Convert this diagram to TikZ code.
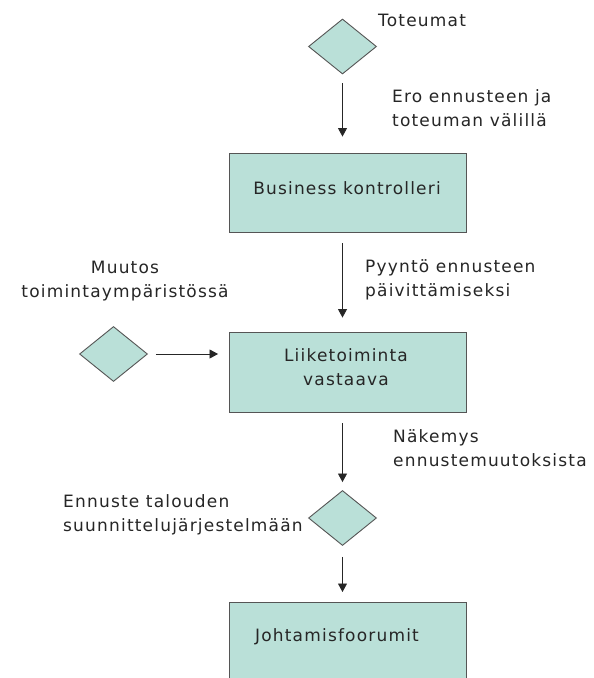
\documentclass[tikz,border=0pt]{standalone}
\usepackage{fontspec}
\setmainfont{DejaVu Sans}[LetterSpace=7]
\usetikzlibrary{shapes.geometric,arrows.meta}
\definecolor{boxfill}{RGB}{186,224,216}
\definecolor{boxline}{RGB}{85,85,85}
\begin{document}
\begin{tikzpicture}[x=1pt,y=-1pt,
  every node/.style={font=\fontsize{17}{24}\selectfont, text=black!85},
  stepbox/.style={draw=boxline, fill=boxfill, line width=0.9pt, inner sep=0pt, minimum width=237pt},
  decision/.style={diamond, draw=boxline, fill=boxfill, line width=0.9pt, inner sep=0pt, minimum width=68pt, minimum height=55pt},
  lbl/.style={align=left, inner sep=0pt, anchor=west},
  flow/.style={-{Triangle[length=8.5pt,width=9pt]}, line width=0.8pt, black!85}]
\clip (0,0) rectangle (594,678);
\fill[white] (0,0) rectangle (594,678);

% decisions and process steps
\node[decision] (d1) at (342.5,46.5) {};
\node[stepbox, minimum height=79pt] (b1) at (348,192.5) {};
\node[stepbox, minimum height=80pt] (b2) at (348,372) {};
\node[decision] (d2) at (113.5,354) {};
\node[decision] (d3) at (342.5,518) {};
\node[stepbox, minimum height=100pt, anchor=north] (b3) at (348,602) {};

% texts
\node at (347,188) {Business kontrolleri};
\node[align=center, inner sep=0pt] at (346,367) {Liiketoiminta\\vastaava};
\node at (337,637) {Johtamisfoorumit};
\node[lbl] at (378,20) {Toteumat};
\node[lbl] at (392,108) {Ero ennusteen ja\\toteuman välillä};
\node[lbl] at (365,280) {Pyyntö ennusteen\\päivittämiseksi};
\node[align=center, inner sep=0pt] at (125,281) {Muutos\\toimintaympäristössä};
\node[lbl] at (393,448) {Näkemys\\ennustemuutoksista};
\node[lbl] at (63,515) {Ennuste talouden\\suunnittelujärjestelmään};

% connectors
\draw[flow, shorten <=9pt, shorten >=16pt] (d1.south) -- (d1.south |- b1.north);
\draw[flow, shorten <=11pt, shorten >=14pt] (b1.south -| d1.center) -- (b2.north -| d1.center);
\draw[flow, shorten <=8pt, shorten >=11pt] (d2.east) -- (d2.east -| b2.west);
\draw[flow, shorten <=11pt, shorten >=8pt] (b2.south -| d3.center) -- (d3.north);
\draw[flow, shorten <=11pt, shorten >=10pt] (d3.south) -- (d3.south |- b3.north);
\end{tikzpicture}
\end{document}
